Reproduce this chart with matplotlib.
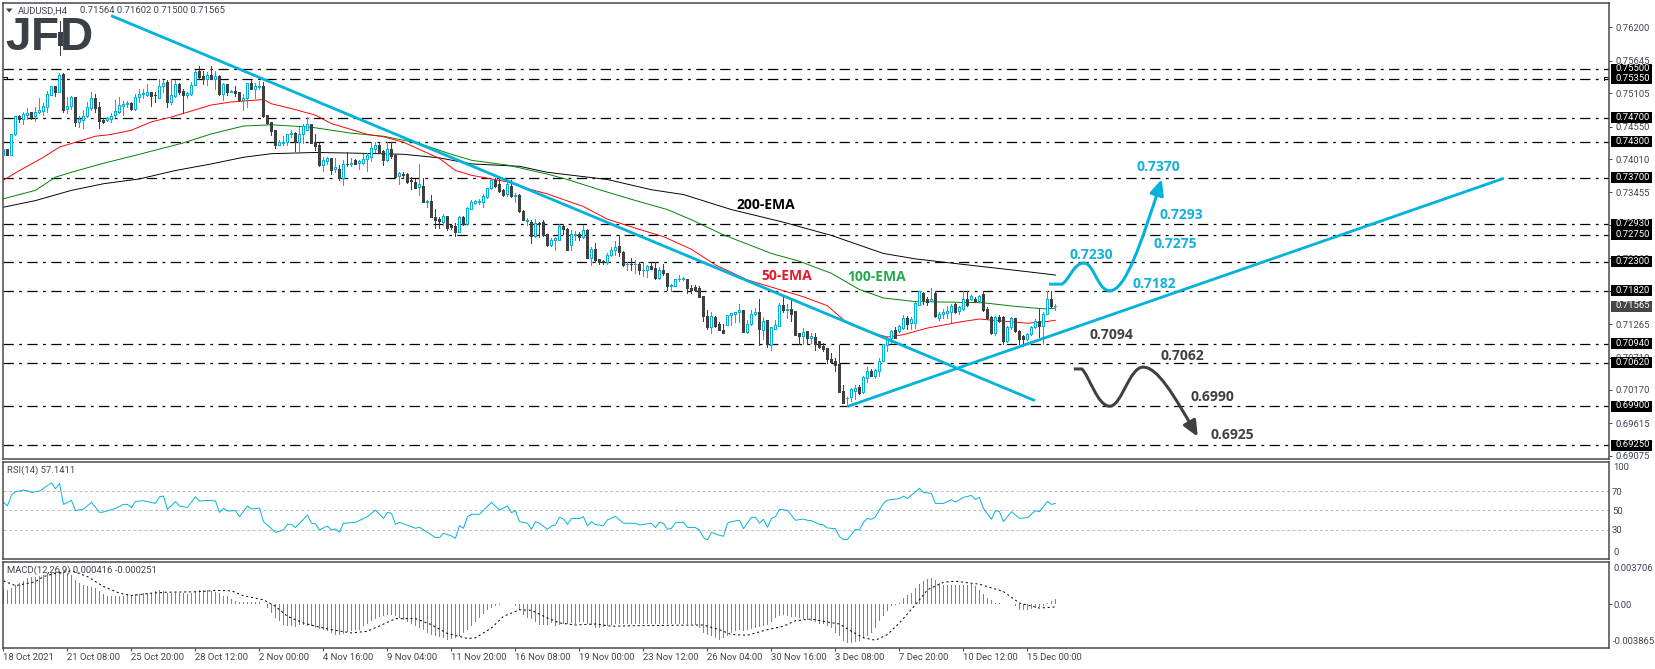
import numpy as np
import matplotlib
matplotlib.use("Agg")
import matplotlib.pyplot as plt
from matplotlib.path import Path
from matplotlib.patches import FancyArrowPatch, Rectangle

W, H = 1655, 669
BLUE = '#00b2dc'
DARK = '#404040'
FRAME = '#464646'
TXT = '#3c4552'
FS = 6.8

# ---------- H4 candles, prices x 10000 ----------
open_ = [7407,7417,7407,7443,7472,7468,7475,7479,7472,7479,
7481,7488,7508,7522,7513,7542,7484,7489,7504,7462,
7466,7472,7486,7503,7487,7466,7466,7468,7474,7479,
7490,7492,7495,7485,7504,7509,7508,7512,7508,7502,
7523,7530,7496,7506,7526,7514,7508,7509,7524,7547,
7539,7534,7541,7535,7539,7509,7526,7513,7515,7512,
7499,7503,7528,7518,7521,7523,7474,7462,7449,7424,
7428,7429,7442,7444,7429,7442,7449,7460,7429,7424,
7391,7397,7402,7384,7385,7370,7393,7393,7400,7395,
7395,7401,7404,7417,7424,7414,7399,7417,7407,7373,
7377,7376,7366,7363,7354,7357,7329,7332,7305,7301,
7297,7306,7291,7289,7280,7305,7293,7318,7328,7330,
7329,7338,7353,7367,7359,7349,7343,7357,7340,7342,
7315,7298,7296,7273,7295,7296,7276,7258,7267,7266,
7290,7285,7258,7275,7276,7272,7283,7236,7252,7234,
7231,7229,7242,7249,7256,7247,7226,7227,7226,7226,
7216,7216,7223,7220,7204,7216,7212,7190,7190,7201,
7202,7202,7187,7188,7186,7173,7140,7121,7139,7126,
7117,7125,7141,7144,7147,7150,7114,7127,7144,7146,
7117,7133,7092,7119,7123,7158,7150,7152,7148,7111,
7106,7115,7104,7105,7098,7090,7087,7069,7066,7061,
7015,7003,7005,7015,7022,7013,7037,7048,7041,7049,
7065,7091,7103,7116,7115,7120,7137,7129,7129,7159,
7179,7169,7165,7179,7136,7143,7145,7146,7160,7148,
7151,7169,7168,7168,7165,7176,7151,7139,7111,7139,
7139,7099,7121,7136,7115,7106,7102,7110,7121,7132,
7123,7144,7169,7156]
high = [7418,7417,7443,7473,7474,7479,7486,7479,7488,7503,
7494,7514,7523,7522,7544,7544,7504,7506,7504,7472,
7483,7496,7512,7510,7496,7470,7471,7477,7500,7504,
7497,7498,7496,7510,7518,7517,7526,7512,7512,7535,
7532,7533,7535,7533,7527,7517,7513,7529,7549,7556,
7547,7546,7556,7547,7541,7527,7526,7516,7522,7512,
7510,7528,7533,7527,7531,7529,7475,7462,7449,7432,
7440,7443,7450,7446,7454,7460,7471,7460,7443,7428,
7404,7404,7402,7403,7391,7399,7412,7402,7401,7400,
7410,7411,7429,7429,7427,7416,7429,7429,7410,7379,
7379,7378,7371,7368,7392,7370,7333,7341,7318,7304,
7310,7307,7292,7295,7306,7306,7321,7333,7333,7334,
7343,7353,7370,7370,7370,7352,7366,7366,7344,7343,
7316,7303,7300,7302,7296,7299,7276,7269,7271,7293,
7293,7286,7283,7282,7280,7291,7285,7255,7261,7235,
7233,7244,7255,7264,7275,7248,7230,7236,7233,7230,
7230,7225,7229,7229,7222,7227,7212,7194,7201,7208,
7205,7202,7191,7191,7190,7174,7150,7147,7140,7130,
7126,7141,7145,7147,7160,7150,7133,7150,7154,7169,
7139,7133,7122,7133,7161,7173,7160,7166,7148,7111,
7120,7115,7112,7112,7098,7095,7087,7079,7070,7091,
7026,7006,7020,7026,7026,7040,7055,7052,7052,7070,
7094,7106,7116,7122,7125,7142,7140,7139,7163,7182,
7180,7172,7187,7182,7147,7152,7156,7160,7162,7157,
7182,7182,7175,7171,7175,7181,7155,7140,7140,7141,
7140,7123,7138,7137,7117,7108,7112,7123,7135,7153,
7146,7181,7182,7160]
low = [7407,7407,7407,7441,7462,7460,7468,7467,7464,7478,
7474,7479,7507,7506,7513,7479,7477,7484,7456,7454,
7452,7471,7482,7479,7453,7461,7464,7463,7471,7477,
7474,7488,7482,7483,7496,7502,7506,7489,7496,7502,
7513,7488,7493,7504,7510,7478,7503,7507,7524,7535,
7526,7524,7535,7518,7508,7500,7507,7512,7506,7497,
7483,7488,7517,7502,7518,7471,7459,7441,7419,7424,
7424,7424,7438,7414,7411,7428,7449,7427,7416,7390,
7381,7393,7377,7379,7367,7358,7390,7390,7393,7384,
7393,7382,7398,7413,7411,7391,7397,7403,7370,7359,
7370,7362,7352,7353,7341,7329,7321,7304,7287,7286,
7292,7283,7284,7273,7279,7292,7292,7318,7326,7327,
7321,7337,7352,7354,7346,7339,7340,7338,7329,7313,
7299,7291,7262,7272,7272,7273,7256,7256,7250,7266,
7277,7250,7250,7267,7266,7269,7236,7225,7229,7226,
7226,7226,7240,7241,7239,7223,7217,7217,7211,7210,
7206,7205,7219,7202,7201,7208,7184,7182,7190,7199,
7200,7179,7179,7182,7172,7132,7119,7111,7122,7116,
7111,7125,7125,7130,7130,7113,7112,7125,7141,7091,
7102,7089,7083,7119,7123,7147,7137,7132,7108,7094,
7094,7094,7095,7083,7086,7082,7062,7062,7048,7014,
6995,6991,6999,7002,7011,7012,7031,7040,7037,7040,
7065,7081,7095,7103,7114,7118,7118,7118,7120,7158,
7160,7158,7165,7138,7133,7136,7137,7130,7145,7143,
7150,7157,7167,7163,7163,7148,7135,7110,7108,7130,
7093,7097,7119,7113,7094,7095,7100,7109,7120,7105,
7094,7143,7155,7150]
close = [7418,7407,7443,7472,7467,7476,7478,7471,7480,7482,
7489,7509,7522,7512,7541,7483,7489,7504,7463,7467,
7473,7487,7503,7486,7464,7463,7470,7473,7481,7491,
7493,7494,7485,7505,7509,7511,7512,7506,7507,7523,
7528,7496,7507,7526,7512,7508,7511,7524,7546,7538,
7535,7541,7535,7539,7510,7526,7513,7515,7511,7499,
7503,7528,7518,7522,7522,7473,7461,7448,7424,7429,
7430,7443,7444,7429,7443,7456,7460,7428,7422,7391,
7399,7402,7383,7387,7370,7393,7392,7394,7393,7398,
7401,7407,7420,7424,7413,7399,7417,7406,7371,7378,
7374,7363,7364,7353,7360,7329,7332,7304,7300,7298,
7307,7286,7288,7280,7305,7293,7320,7329,7331,7332,
7339,7353,7367,7357,7348,7342,7359,7339,7342,7314,
7300,7300,7273,7294,7293,7275,7258,7267,7269,7290,
7284,7250,7276,7276,7272,7283,7236,7252,7233,7229,
7229,7242,7250,7255,7247,7225,7227,7226,7227,7216,
7217,7223,7219,7204,7217,7212,7190,7191,7201,7202,
7203,7187,7184,7183,7172,7140,7121,7140,7123,7116,
7112,7141,7145,7147,7150,7114,7127,7144,7146,7119,
7132,7093,7122,7125,7158,7150,7152,7144,7109,7106,
7114,7103,7106,7094,7088,7085,7069,7064,7059,7014,
6996,7003,7018,7020,7012,7039,7048,7041,7050,7066,
7093,7104,7115,7104,7123,7137,7126,7135,7162,7181,
7166,7164,7169,7140,7144,7147,7148,7156,7147,7155,
7169,7159,7173,7165,7173,7150,7137,7112,7139,7132,
7099,7121,7136,7115,7102,7102,7110,7121,7132,7124,
7144,7169,7157,7157]

# ---------- moving averages (bar, price x 10000) ----------
ema50_bar = [0,4,10,14,18,23,27,32,37,42,46,52,57,65,67,72,78,82,87,91,95,100,104,109,113,117,122,126,131,136,
             145,151,158,165,172,178,186,194,200,206,211,216,221,225,231,239,244,249,256,261,263]
ema50_val = [7366,7382,7404,7421,7429,7439,7442,7449,7463,7471,7479,7491,7496,7500,7493,7485,7474,7460,7450,7442,7438,7429,7417,7402,7382,7374,7368,7363,7352,7343,
             7322,7301,7286,7272,7251,7225,7200,7184,7172,7157,7128,7114,7105,7109,7120,7130,7135,7132,7128,7131,7133]
ema100_bar = [0,8,13,18,25,34,45,52,60,67,77,87,95,104,111,117,126,136,141,149,157,166,172,180,192,199,207,214,220,228,237,245,253,260,263]
ema100_val = [7335,7349,7371,7381,7394,7409,7428,7443,7456,7458,7454,7444,7439,7427,7411,7399,7391,7376,7367,7350,7334,7317,7300,7275,7244,7231,7211,7184,7170,7164,7163,7162,7156,7152,7153]
ema200_bar = [0,8,17,25,34,43,52,60,67,78,87,100,109,117,129,136,151,162,170,182,195,207,220,228,241,253,262,263]
ema200_val = [7321,7332,7349,7360,7368,7382,7393,7404,7410,7412,7411,7409,7403,7393,7389,7379,7367,7350,7342,7317,7296,7274,7244,7235,7225,7216,7209,7208]

# ---------- horizontal levels and price axis ----------
levels = [7550,7535,7470,7430,7370,7293,7275,7230,7182,7094,7062,6990,6925]
last_price = 0.71565
price_ticks = [0.76200,0.75645,0.75105,0.74550,0.74010,0.73455,0.72915,0.72360,0.71820,0.71265,0.70710,0.70170,0.69615,0.69075]

# ---------- trend lines (bar, price x 10000) ----------
down_bar, down_val = [26.9, 257.9], [7639.5, 6999.2]
up_bar, up_val = [211.2, 375.1], [6990, 7369]

# ---------- RSI ----------
rsi_bar = [0,1,2,3,5,6,7,9,12,13,14,15,17,18,20,22,24,25,28,30,31,32,33,35,38,39,40,41,43,44,46,48,49,51,53,54,55,56,58,59,61,62,64,65,68,70,71,72,73,76,77,78,79,81,82,83,84,85,88,91,93,95,96,97,98,99,103,104,107,108,109,110,112,113,114,115,116,117,119,122,124,126,127,128,129,131,132,133,134,136,
           137,138,139,140,141,142,144,145,146,147,148,150,151,153,155,158,159,162,163,164,165,166,167,168,170,171,173,174,175,176,177,179,180,181,182,184,185,187,188,189,190,191,192,193,194,196,198,200,201,202,204,205,206,208,209,210,211,213,214,215,216,217,218,220,221,224,225,226,227,229,230,232,233,235,237,238,240,242,243,244,245,247,248,249,250,252,254,256,258,259,261,262,263]
rsi_val = [58.3,54.8,65.9,69.3,71.0,70.3,68.6,70,78.6,72.4,77.9,56.2,60.3,49.7,51.4,58.3,47.9,48.3,52.1,56.2,56.2,52.8,59.3,60,57.2,64.1,64.8,51,59.3,54.5,53.1,64.1,59.7,60.3,59.7,47.9,52.1,49.3,49.7,43.4,54.5,51.4,52.4,38.3,27.2,29.7,35.5,35.5,32.1,45.2,36.6,35.9,29.7,33.8,29.7,30.7,27.2,36.6,37.6,43.4,50.3,41.7,47.9,46.9,35.5,37.6,31.4,32.4,24.5,21.7,21.7,26.2,23.4,21,34.1,31.4,43.4,45.9,45.9,58.3,50.3,54.5,47.6,49.7,38.3,36.6,30.3,38.3,36.6,30.3,
           33.8,34.8,42.8,41,35.5,41.7,41.4,43.4,33.8,38.3,35.2,34.1,40,43.8,36.6,36.6,34.8,36.6,32.1,37.6,36.6,30.3,31.4,37.2,37.6,32.4,32.1,29.7,21.7,19.3,27.2,24.1,23.1,36.6,38.3,39.7,31,42.8,42.8,36.6,40.7,32.4,41.7,43.4,51,50,39.7,41,39.7,39.3,35.5,34.8,31.7,31,22.8,19.7,19.7,30.3,29.7,37.6,41.7,40.7,43.4,57.2,60.7,62.1,64.8,62.4,65.9,72.8,68.6,67.6,57.2,57.2,61,58.6,63.4,65.5,61.4,63.4,52.1,40.7,49.7,48.6,38.3,48.6,41.7,42.4,49.7,48.6,59.3,56.2,57.14]
rsi_levels = [70, 50, 30]

# ---------- MACD (units of 0.00001) ----------
macd_hist = [131,126,146,169,184,199,228,242,242,248,257,272,277,286,292,286,272,257,213,184,
164,155,152,140,111,88,73,67,67,73,73,79,82,88,91,102,102,96,111,120,
111,102,102,102,96,96,91,96,111,120,123,120,111,108,96,73,67,44,23,15,
18,18,18,20,15,3,-35,-79,-123,-152,-181,-196,-196,-204,-181,-181,-190,-196,-210,-219,
-225,-239,-254,-269,-274,-263,-248,-239,-231,-225,-196,-172,-152,-131,-114,-108,-99,-93,-102,-123,
-137,-161,-175,-190,-210,-231,-254,-269,-283,-289,-298,-312,-304,-298,-283,-254,-231,-196,-161,-123,
-85,-50,-35,-20,-6,-3,3,3,-15,-50,-93,-123,-131,-161,-181,-181,-181,-166,-196,-181,
-172,-175,-166,-172,-161,-161,-172,-181,-210,-210,-204,-196,-181,-175,-175,-175,-175,-175,-175,-175,
-175,-172,-175,-175,-175,-175,-175,-175,-175,-175,-175,-175,-175,-181,-210,-254,-269,-283,-298,-312,
-298,-277,-254,-239,-231,-239,-225,-219,-210,-201,-196,-181,-158,-123,-108,-99,-102,-117,-117,-123,
-128,-137,-152,-161,-172,-175,-196,-210,-254,-283,-327,-342,-342,-336,-321,-298,-283,-254,-210,-152,
-102,-64,-20,-6,9,53,82,102,140,178,207,219,234,213,184,169,169,166,164,166,
172,169,175,155,126,91,53,32,9,6,3,3,0,-20,-50,-50,-50,-41,-35,-26,
-15,9,29,42]
sig_bar = [0,3,4,8,10,13,17,21,25,29,32,37,41,48,53,57,60,65,68,71,75,78,82,87,91,96,98,103,107,111,116,118,122,125,129,132,136,
           139,143,148,152,158,175,179,182,186,191,195,198,202,205,209,212,215,218,221,224,228,231,235,238,244,250,254,259,263]
sig_val = [204,163,169,198,242,271,294,242,155,96,76,96,105,108,120,117,73,38,-20,-108,-166,-195,-225,-254,-239,-160,-128,-128,-181,-259,-303,-297,-210,-108,-50,-55,-122,
           -166,-184,-175,-195,-190,-184,-225,-268,-274,-225,-195,-146,-131,-152,-175,-239,-297,-318,-268,-166,-6,125,192,201,175,111,9,-35,-25]

# ---------- axis labels ----------
bar_ticks = list(range(0, 257, 16))
time_labels = ['18 Oct 2021','21 Oct 08:00','25 Oct 20:00','28 Oct 12:00','2 Nov 00:00','4 Nov 16:00','9 Nov 04:00',
               '11 Nov 20:00','16 Nov 08:00','19 Nov 00:00','23 Nov 12:00','26 Nov 04:00','30 Nov 16:00','3 Dec 08:00',
               '7 Dec 20:00','10 Dec 12:00','15 Dec 00:00']

plt.rcParams['font.family'] = ['Roboto', 'DejaVu Sans']
plt.rcParams['lines.scale_dashes'] = False

fig = plt.figure(figsize=(W/100, H/100), dpi=100, facecolor='white')
PX = 0.72  # points per pixel

def panel(top, bottom, left=2.5, right=1609):
    ax = fig.add_axes([left/W, 1-bottom/H, (right-left)/W, (bottom-top)/H])
    for s in ax.spines.values():
        s.set_color(FRAME); s.set_linewidth(1.5*PX)
    ax.set_xlim(-0.25, 401.4)
    ax.yaxis.tick_right()
    ax.tick_params(axis='y', length=3*PX, width=PX, color=FRAME, labelcolor=TXT, labelsize=FS, pad=3*PX)
    ax.tick_params(axis='x', length=0, labelbottom=False)
    return ax

ax = panel(2.5, 459)
ax_rsi = panel(461.7, 559)
ax_macd = panel(562, 648)

# ---- price panel ----
ax.set_ylim(0.69022, 0.76614)
bars = np.arange(len(close))
o, h, l, c = [np.array(a)/1e4 for a in (open_, high, low, close)]
up = c >= o
for lev in levels:
    ax.axhline(lev/1e4, color='black', lw=1.25*PX, dashes=(7.4, 3.9, 2.0, 3.9), zorder=1)
# small level step seen at each end of the 0.7535 line
ax.plot([-0.25, 1, 1], [0.7538, 0.7538, 0.7534], color='black', lw=PX, zorder=1.1)
ax.plot([400.1, 400.1, 401.4], [0.7533, 0.7538, 0.7538], color='black', lw=PX, zorder=1.1)

ax.plot(ema200_bar, np.array(ema200_val)/1e4, color='black', lw=0.95*PX, zorder=2)
ax.plot(ema100_bar, np.array(ema100_val)/1e4, color='#008000', lw=0.95*PX, zorder=2)
ax.plot(ema50_bar, np.array(ema50_val)/1e4, color='#ff0000', lw=0.95*PX, zorder=2)

ax.vlines(bars[up], l[up], h[up], color=BLUE, lw=PX, zorder=3, antialiased=False)
ax.vlines(bars[~up], l[~up], h[~up], color=DARK, lw=PX, zorder=3, antialiased=False)
ax.bar(bars[up], (c-o)[up], bottom=o[up], width=0.5, facecolor='white', edgecolor=BLUE, linewidth=PX, zorder=4, antialiased=False)
ax.bar(bars[~up], (c-o)[~up], bottom=o[~up], width=0.5, facecolor=DARK, edgecolor=DARK, linewidth=PX, zorder=4, antialiased=False)

ax.plot(down_bar, np.array(down_val)/1e4, color=BLUE, lw=2.8*PX, zorder=5, solid_capstyle='butt')
ax.plot(up_bar, np.array(up_val)/1e4, color=BLUE, lw=2.8*PX, zorder=5, solid_capstyle='butt')

def curve(points, color):
    verts = [(b, p/1e4) for b, p in points]
    codes = [Path.MOVETO, Path.LINETO] + [Path.CURVE4]*(len(verts)-2)
    arrow = FancyArrowPatch(path=Path(verts, codes), arrowstyle='-|>,head_length=0.95,head_width=0.42',
                            mutation_scale=10, lw=3*PX, color=color, transform=ax.transData, zorder=6,
                            shrinkA=0, shrinkB=0, joinstyle='round', capstyle='butt')
    ax.add_artist(arrow)

curve([(261.4,7193),(264.6,7193),(266.5,7200),(267.5,7228),(270.1,7228),(272.7,7228),(273.5,7182),(276.6,7182),
       (280.5,7182),(284.5,7262),(289.6,7368)], BLUE)
curve([(267.6,7052),(269.6,7052),(271.5,7040),(273.5,6990),(276.6,6990),(279.5,6990),(281.5,7055),(284.9,7055),
       (288.5,7055),(292.5,7010),(298.6,6939)], DARK)

ax.set_yticks(price_ticks)
ax.set_yticklabels([f'{t:.5f}' for t in price_ticks])

# black price tags on the right
def y_px(a, val):
    return H - a.transData.transform((0, val))[1]

def tag(price, color):
    y = y_px(ax, price)
    fig.add_artist(Rectangle((1611/W, 1-(y+5.5)/H), 41/W, 11/H, transform=fig.transFigure,
                             facecolor=color, edgecolor='none', zorder=5))
    fig.text(1615.3/W, 1-(y-0.5)/H, f'{price:.5f}', color='white', fontsize=FS, va='center', ha='left', zorder=6)

for lev in levels:
    tag(lev/1e4, 'black')
tag(last_price, '#464646')

# ---- RSI panel ----
ax_rsi.set_ylim(-0.5, 100.5)
for lev in rsi_levels:
    ax_rsi.axhline(lev, color='#c0c0c0', lw=PX, dashes=(2.2, 1.7))
ax_rsi.plot(rsi_bar, rsi_val, color=BLUE, lw=0.95*PX)
ax_rsi.set_yticks(rsi_levels)
ax_rsi.set_yticklabels([str(v) for v in rsi_levels])
ax_rsi.tick_params(axis='y', length=0, pad=3*PX)

# ---- MACD panel ----
ax_macd.set_ylim(-0.003865, 0.003706)
ax_macd.bar(bars, np.array(macd_hist)*1e-5, width=0.42, color=BLUE, linewidth=0, antialiased=False)
ax_macd.plot(sig_bar, np.array(sig_val)*1e-5, color='black', lw=PX, dashes=(1.5, 2.0))
ax_macd.set_yticks([0.0])
ax_macd.set_yticklabels(['0.00'])
ax_macd.tick_params(axis='y', pad=2*PX)
ax_macd.set_xticks(bar_ticks)
ax_macd.set_xticklabels(time_labels, ha='left')
ax_macd.tick_params(axis='x', length=3*PX, width=PX, color=FRAME, labelcolor=TXT, labelsize=FS,
                    labelbottom=True, pad=1.5*PX)

# ---- text placed by pixel ----
def label(x, y, s, **kw):
    kw.setdefault('va', 'center')
    kw.setdefault('ha', 'left')
    kw.setdefault('color', TXT)
    kw.setdefault('fontsize', FS)
    fig.text(x/W, 1-y/H, s, **kw)

label(1613, 468, '100')
label(1613, 552.3, '0')
label(1613, 568.3, '0.003706')
label(1613, 641.7, '-0.003865')

label(18.2, 10.7, 'AUDUSD,H4')
label(80, 10.7, '0.71564 0.71602 0.71500 0.71565')
label(7, 470.7, 'RSI(14) 57.1411')
label(7, 570.3, 'MACD(12,26,9) 0.000416 -0.000251')
fig.add_artist(plt.Polygon([(6/W, 1-8.5/H), (12.5/W, 1-8.5/H), (9.2/W, 1-12.5/H)], closed=True,
                           transform=fig.transFigure, facecolor='#404040', edgecolor='none'))

# logo
LOGO = '#3a3f48'
for x, s in [(18.5, 'J'), (45, 'F'), (76, 'D')]:
    label(x, 38, s, color=LOGO, family=['Liberation Sans Narrow', 'Liberation Sans'], weight='bold', fontsize=33, ha='center')
fig.add_artist(Rectangle((57.5/W, 1-45.5/H), 5/W, 13.5/H, transform=fig.transFigure, facecolor=LOGO, edgecolor='none'))
fig.add_artist(Rectangle((59.6/W, 1-56/H), 1/W, 35/H, transform=fig.transFigure, facecolor=LOGO, edgecolor='none'))

# annotations
ann = dict(family='Open Sans', weight='bold', fontsize=10, ha='center')
LB = '#12b0da'
for x, y, s, col in [(1158,167,'0.7370',LB),(1181,215,'0.7293',LB),(1175,244,'0.7275',LB),(1091.7,255,'0.7230',LB),
                     (1154,284,'0.7182',LB),(1111,335,'0.7094',DARK),(1182,356,'0.7062',DARK),
                     (1212,397,'0.6990',DARK),(1232,435,'0.6925',DARK),
                     (766,205,'200-EMA','black'),(786.7,276,'50-EMA','#e8192c'),(877,276.7,'100-EMA','#22a94a')]:
    label(x, y, s, color=col, **ann)

fig.savefig('out.png', dpi=100, facecolor='white')
